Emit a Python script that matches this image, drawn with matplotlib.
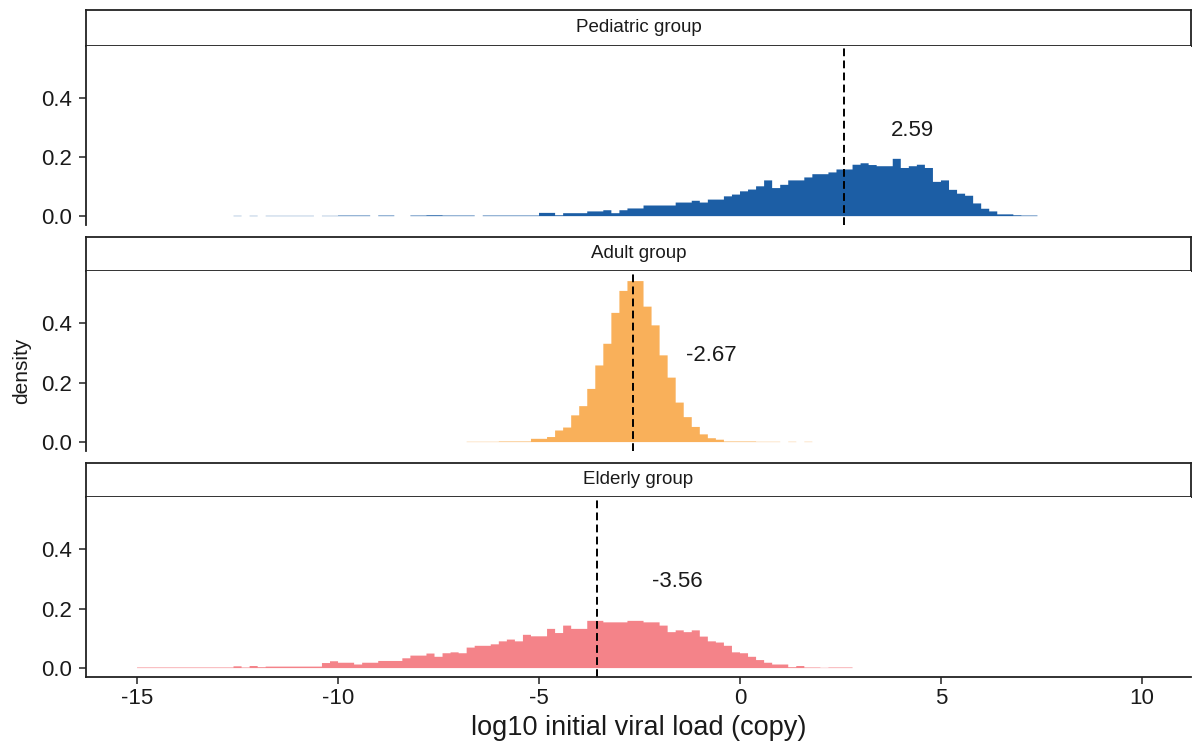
import numpy as np
import matplotlib
matplotlib.use("Agg")
import matplotlib.pyplot as plt

plt.rcParams["font.family"] = ["Liberation Sans", "DejaVu Sans"]

# histogram bins (log10 copies), density per 0.2-wide bin
bin_width = 0.2

groups = ["Pediatric group", "Adult group", "Elderly group"]
colors = ["#1C5EA5", "#F9B05A", "#F48389"]
means = [2.59, -2.67, -3.56]

ped_start = -12.6
ped_density = [
    0.001, 0.0, 0.001, 0.0, 0.001, 0.001, 0.001, 0.001, 0.001, 0.001,
    0.0, 0.001, 0.001, 0.002, 0.002, 0.002, 0.002, 0.0, 0.002, 0.002,
    0.0, 0.0, 0.002, 0.002, 0.003, 0.003, 0.002, 0.002, 0.002, 0.002,
    0.0, 0.002, 0.002, 0.002, 0.002, 0.002, 0.002, 0.002, 0.011, 0.011,
    0.003, 0.010, 0.010, 0.010, 0.016, 0.016, 0.020, 0.010, 0.020, 0.026,
    0.026, 0.036, 0.036, 0.036, 0.036, 0.046, 0.046, 0.052, 0.046, 0.056,
    0.056, 0.067, 0.073, 0.084, 0.090, 0.101, 0.121, 0.095, 0.106, 0.121,
    0.121, 0.131, 0.142, 0.142, 0.148, 0.158, 0.158, 0.174, 0.179, 0.173,
    0.169, 0.169, 0.194, 0.163, 0.169, 0.174, 0.163, 0.116, 0.121, 0.089,
    0.076, 0.069, 0.043, 0.025, 0.016, 0.006, 0.006, 0.003, 0.002, 0.002,
]

adult_start = -6.8
adult_density = [
    0.001, 0.001, 0.001, 0.001, 0.002, 0.002, 0.002, 0.002, 0.011, 0.011,
    0.017, 0.039, 0.049, 0.090, 0.121, 0.179, 0.258, 0.331, 0.435, 0.509,
    0.542, 0.542, 0.456, 0.393, 0.292, 0.217, 0.133, 0.084, 0.051, 0.026,
    0.013, 0.008, 0.002, 0.002, 0.002, 0.002, 0.001, 0.001, 0.001, 0.0,
    0.001, 0.0, 0.001,
]

eld_start = -15.0
eld_density = [
    0.002, 0.002, 0.002, 0.002, 0.002, 0.002, 0.002, 0.002, 0.002, 0.002,
    0.002, 0.002, 0.006, 0.002, 0.007, 0.003, 0.005, 0.005, 0.005, 0.005,
    0.005, 0.005, 0.005, 0.017, 0.023, 0.018, 0.018, 0.012, 0.018, 0.018,
    0.024, 0.024, 0.024, 0.033, 0.042, 0.042, 0.049, 0.038, 0.050, 0.053,
    0.050, 0.069, 0.075, 0.075, 0.080, 0.090, 0.096, 0.090, 0.112, 0.107,
    0.107, 0.132, 0.118, 0.143, 0.132, 0.132, 0.159, 0.159, 0.154, 0.154,
    0.154, 0.159, 0.159, 0.154, 0.154, 0.143, 0.121, 0.127, 0.121, 0.127,
    0.106, 0.090, 0.086, 0.075, 0.053, 0.050, 0.038, 0.027, 0.018, 0.012,
    0.012, 0.003, 0.007, 0.002, 0.002, 0.001, 0.002, 0.002, 0.002,
]

starts = [ped_start, adult_start, eld_start]
densities = [ped_density, adult_density, eld_density]
label_dx = [1.7, 1.95, 2.0]

W, H = 1193, 742
fig = plt.figure(figsize=(W / 100, H / 100), dpi=100)


def box(x0, y0, x1, y1):
    return [x0 / W, 1 - y1 / H, (x1 - x0) / W, (y1 - y0) / H]


strip_rows = [(10, 46), (237, 271), (463, 497)]
panel_rows = [(46, 225), (271, 451), (497, 677)]
left, right = 86, 1191
ink = "#1a1a1a"

for i, g in enumerate(groups):
    # facet strip
    sax = fig.add_axes(box(left, strip_rows[i][0], right, strip_rows[i][1]))
    sax.set_xticks([])
    sax.set_yticks([])
    for sp in sax.spines.values():
        sp.set_linewidth(1.3)
        sp.set_color("#222222")
    sax.text(0.5, 0.5, g, ha="center", va="center", fontsize=13.5,
             color=ink, transform=sax.transAxes)

    ax = fig.add_axes(box(left, panel_rows[i][0], right, panel_rows[i][1]))
    d = np.array(densities[i])
    edges = starts[i] + bin_width * np.arange(len(d) + 1)
    ax.stairs(d, edges, fill=True, color=colors[i], linewidth=0, snap=False)
    ax.axvline(means[i], color="black", linestyle=(0, (4, 2.2)), linewidth=1.4)
    ax.text(means[i] + label_dx[i], 0.29, f"{means[i]:.2f}", ha="center",
            va="center", fontsize=16, color=ink)

    ax.set_xlim(-16.27, 11.22)
    ax.set_ylim(-0.03, 0.576)
    ax.set_yticks([0.0, 0.2, 0.4])
    ax.set_yticklabels(["0.0", "0.2", "0.4"])
    for side in ["top", "right"]:
        ax.spines[side].set_visible(False)
    ax.spines["left"].set_linewidth(1.3)
    ax.spines["left"].set_color("#222222")
    ax.tick_params(axis="y", labelsize=16, length=5, width=1.1, pad=5,
                   colors="#222222", labelcolor=ink)
    if i < 2:
        ax.spines["bottom"].set_visible(False)
        ax.set_xticks([])
    else:
        ax.spines["bottom"].set_linewidth(1.3)
        ax.spines["bottom"].set_color("#222222")
        ax.set_xticks([-15, -10, -5, 0, 5, 10])
        ax.set_xticklabels(["-15", "-10", "-5", "0", "5", "10"])
        ax.tick_params(axis="x", labelsize=16, length=5, width=1.1, pad=3,
                       colors="#222222", labelcolor=ink)
        ax.set_xlabel("log10 initial viral load (copy)", fontsize=19.5,
                      color=ink, labelpad=4)

fig.text(22 / W, 1 - 371 / H, "density", rotation=90, ha="center",
         va="center", fontsize=15, color=ink)

fig.savefig("out.png", dpi=100)
